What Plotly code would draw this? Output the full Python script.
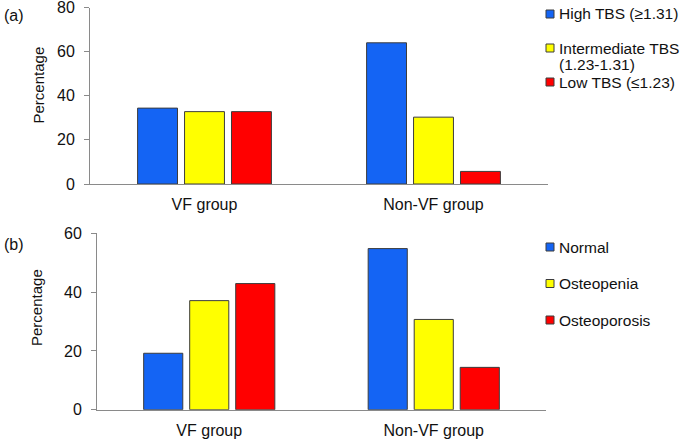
import plotly.graph_objects as go

W, H = 685, 439

groups = ["VF group", "Non-VF group"]

tbs_names = ["High TBS (≥1.31)", "Intermediate TBS", "(1.23-1.31)", "Low TBS (≤1.23)"]
tbs_high = [34.4, 64.0]
tbs_inter = [32.8, 30.3]
tbs_low = [32.8, 5.7]

bmd_names = ["Normal", "Osteopenia", "Osteoporosis"]
bmd_normal = [19.2, 54.8]
bmd_osteopenia = [37.1, 30.7]
bmd_osteoporosis = [42.9, 14.4]

colors = ["#1464F4", "#FFFF00", "#FF0000"]
edge = "#3C3C3C"
axis_col = "#8A8A8A"
FONT = "Liberation Sans, Arial, sans-serif"


def px(x):
    return x / W


def py(y):
    return 1 - y / H


fig = go.Figure()

for vals, c in zip([tbs_high, tbs_inter, tbs_low], colors):
    fig.add_trace(go.Bar(x=groups, y=vals, marker=dict(color=c, line=dict(color=edge, width=1)),
                         xaxis="x", yaxis="y", showlegend=False))
for vals, c in zip([bmd_normal, bmd_osteopenia, bmd_osteoporosis], colors):
    fig.add_trace(go.Bar(x=groups, y=vals, marker=dict(color=c, line=dict(color=edge, width=1)),
                         xaxis="x2", yaxis="y2", showlegend=False))

ax_common = dict(showgrid=False, zeroline=False, showline=True, linecolor=axis_col, linewidth=1,
                 automargin=False, ticklabeloverflow="allow",
                 tickfont=dict(family=FONT, size=16, color="#111"))
yax_common = dict(ax_common, ticks="outside", ticklen=5, tickcolor=axis_col, tickwidth=1,
                  ticklabelstandoff=6)
xax_common = dict(ax_common, ticks="", ticklabelstandoff=6)

fig.update_layout(
    template="none",
    width=W, height=H,
    margin=dict(l=0, r=0, t=0, b=0, autoexpand=False),
    paper_bgcolor="white", plot_bgcolor="white",
    barmode="group", bargap=0.385, bargroupgap=0.15,
    xaxis=dict(xax_common, domain=[px(90), px(548)], anchor="y"),
    yaxis=dict(yax_common, domain=[py(184), py(7.5)], range=[0, 80], dtick=20, anchor="x"),
    xaxis2=dict(xax_common, domain=[px(97), px(546)], anchor="y2"),
    yaxis2=dict(yax_common, domain=[py(409.7), py(233.3)], range=[0, 60], dtick=20, anchor="x2"),
    font=dict(family=FONT, size=16, color="#111"),
)

ann = []
shapes = []

# panel labels
ann.append(dict(text="(a)", x=px(2), y=py(16), xref="paper", yref="paper", xanchor="left",
                yanchor="middle", showarrow=False, font=dict(size=16)))
ann.append(dict(text="(b)", x=px(2), y=py(244), xref="paper", yref="paper", xanchor="left",
                yanchor="middle", showarrow=False, font=dict(size=16)))
# y titles
ann.append(dict(text="Percentage", x=px(37.5), y=py(85), xref="paper", yref="paper", textangle=-90,
                xanchor="center", yanchor="middle", showarrow=False, font=dict(size=15)))
ann.append(dict(text="Percentage", x=px(36.5), y=py(307.5), xref="paper", yref="paper", textangle=-90,
                xanchor="center", yanchor="middle", showarrow=False, font=dict(size=15)))


def legend_text(yc, text):
    ann.append(dict(text=text, x=px(557), y=py(yc), xref="paper", yref="paper", xanchor="left",
                    yanchor="middle", showarrow=False, font=dict(size=15.5)))


def legend_item(yc, text, color):
    shapes.append(dict(type="rect", xref="paper", yref="paper", x0=px(546), x1=px(554),
                       y0=py(yc + 4), y1=py(yc - 4), fillcolor=color, line=dict(color=edge, width=1)))
    legend_text(yc, text)


legend_item(14, tbs_names[0], colors[0])
legend_item(48, tbs_names[1], colors[1])
legend_text(65, tbs_names[2])
legend_item(82, tbs_names[3], colors[2])

for yc, name, c in zip([247, 283.5, 320], bmd_names, colors):
    legend_item(yc, name, c)

fig.update_layout(annotations=ann, shapes=shapes)

fig.write_html("out.html", config={"displayModeBar": False},
               post_script="document.body.style.margin='0';")
